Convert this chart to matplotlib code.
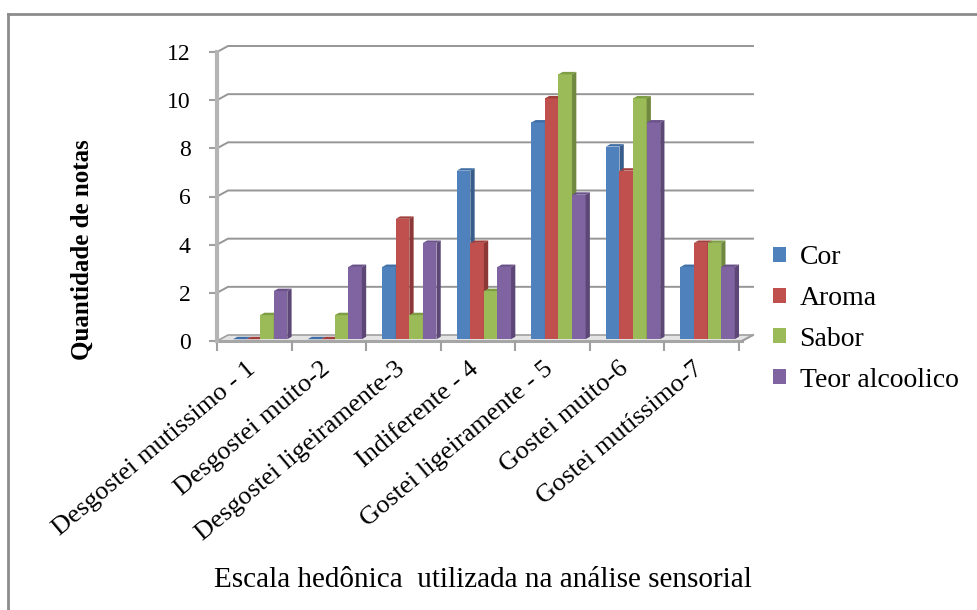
import matplotlib.pyplot as plt
from matplotlib.patches import Polygon, Patch
from matplotlib.lines import Line2D
from matplotlib.transforms import ScaledTranslation

categorias = ["Desgostei mutissimo - 1", "Desgostei muito-2", "Desgostei ligeiramente-3",
              "Indiferente - 4", "Gostei ligeiramente - 5", "Gostei muito-6",
              "Gostei mutíssimo-7"]
series = ["Cor", "Aroma", "Sabor", "Teor alcoolico"]
cor = [0, 0, 3, 7, 9, 8, 3]
aroma = [0, 0, 5, 4, 10, 7, 4]
sabor = [1, 1, 1, 2, 11, 10, 4]
teor = [2, 3, 4, 3, 6, 9, 3]
yticks = [0, 2, 4, 6, 8, 10, 12]

frente = ["#4F81BD", "#C0504D", "#9BBB59", "#8064A2"]
lado = ["#385D8A", "#8C3836", "#71893F", "#5C4776"]
topo = ["#3F6EA6", "#A13F3C", "#7E9E45", "#6A5289"]

plt.rcParams['font.family'] = ['Liberation Serif', 'DejaVu Serif']

W, H = 978, 610
fig = plt.figure(figsize=(W / 100, H / 100), dpi=100)
ax = fig.add_axes([217 / W, (H - 341) / H, 522 / W, 289 / H])
ax.set_xlim(-0.5, 6.5)
ax.set_ylim(0, 12)
for s in ax.spines.values():
    s.set_visible(False)

# pixels -> data units
px_x = 522 / 7
px_y = 289 / 12
wdx, wdy = 11 / px_x, 6 / px_y      # profundidade da parede
bdx, bdy = 4.3 / px_x, 2.4 / px_y   # profundidade das barras
xr = 6.5 + 3 / px_x

grid = "#969696"
# piso
ax.add_patch(Polygon([(-0.5, 0), (xr, 0), (xr + wdx, wdy), (-0.5 + wdx, wdy)],
                     closed=True, facecolor="#e4e4e4", edgecolor="#a0a0a0",
                     lw=1.2, clip_on=False, zorder=1))
ax.add_line(Line2D([-0.5, xr], [0, 0], color="#a6a6a6", lw=2.2, clip_on=False, zorder=1))
ax.add_line(Line2D([xr, xr + wdx], [0, wdy], color="#a0a0a0", lw=1.5, clip_on=False, zorder=1))

# linhas de grade na parede de fundo
for v in yticks[1:]:
    ax.add_line(Line2D([-0.5, -0.5 + wdx, xr + wdx], [v, v + wdy, v + wdy],
                       color=grid, lw=1.4, clip_on=False, zorder=1))
ax.add_line(Line2D([-0.5, -0.5], [0, 12], color="#b4b4b4", lw=3, clip_on=False, zorder=2))

# barras 3D
valores = [cor, aroma, sabor, teor]
bw = 13.56 / px_x
shift = 5.9 / px_x
base = 1.8 / px_y
for i in range(len(categorias)):
    x0 = i + shift - 2 * bw
    for k, vals in enumerate(valores):
        v = vals[i]
        xl = x0 + k * bw
        xrb = xl + bw
        ax.bar(xl, v, width=bw, bottom=base, align="edge", color=frente[k],
               lw=0, zorder=3 + i * 10 + k * 2)
        ax.add_patch(Polygon([(xrb, base), (xrb + bdx, base + bdy),
                              (xrb + bdx, base + v + bdy), (xrb, base + v)],
                             closed=True, facecolor=lado[k], lw=0,
                             zorder=3 + i * 10 + k * 2, clip_on=False))
        ax.add_patch(Polygon([(xl, base + v), (xrb, base + v),
                              (xrb + bdx, base + v + bdy), (xl + bdx, base + v + bdy)],
                             closed=True, facecolor=topo[k], lw=0,
                             zorder=3 + i * 10 + k * 2, clip_on=False))

# eixos
ax.set_yticks(yticks)
ax.set_yticklabels([str(v) for v in yticks], fontsize=17)
ax.tick_params(axis="y", length=6, width=1.5, color="#a0a0a0", pad=13)
ax.set_xticks(range(len(categorias)))
ax.set_xticklabels(categorias, rotation=40, ha="right", rotation_mode="anchor", fontsize=19)
ax.tick_params(axis="x", length=0, pad=12)
desloc = ScaledTranslation(-9 / 100, 0, fig.dpi_scale_trans)
for lbl in ax.get_xticklabels():
    lbl.set_transform(lbl.get_transform() + desloc)
ax.set_xticks([i - 0.5 for i in range(len(categorias) + 1)], minor=True)
ax.tick_params(axis="x", which="minor", length=7, width=1.5, color="#a0a0a0")

fig.text(82 / W, 1 - 250 / H, "Quantidade de notas", rotation=90, fontsize=18,
         fontweight="bold", ha="center", va="center")
fig.text(483 / W, 1 - 580 / H, "Escala hedônica  utilizada na análise sensorial",
         fontsize=21, ha="center", va="center")

handles = [Patch(facecolor=c, edgecolor="none") for c in frente]
fig.legend(handles, series, loc="upper left", bbox_to_anchor=(762 / W, 1 - 234 / H),
           frameon=False, fontsize=20, handlelength=0.45, handleheight=0.45,
           handletextpad=0.5, labelspacing=0.57, borderaxespad=0)

# moldura
fig.add_artist(Line2D([8 / W, 8 / W], [0, 1 - 14 / H], color="#8c8c8c", lw=2))
fig.add_artist(Line2D([8 / W, 1], [1 - 14 / H, 1 - 14 / H], color="#8c8c8c", lw=2))

fig.savefig("out.png", dpi=100)
